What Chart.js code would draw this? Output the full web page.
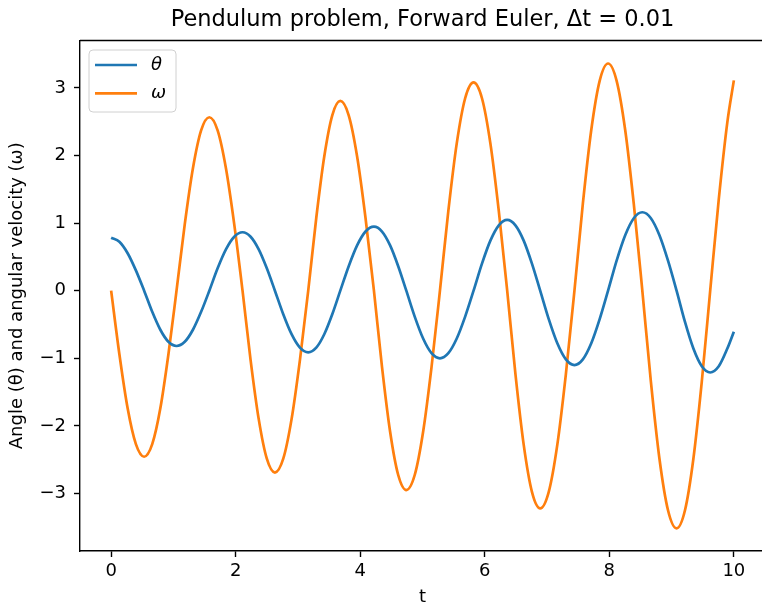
<!DOCTYPE html>
<html>
<head>
<meta charset="utf-8">
<script src="https://cdn.jsdelivr.net/npm/chart.js@4/dist/chart.umd.min.js"></script>
<style>
    html, body { margin: 0; padding: 0; background: #fff; overflow: hidden; }
    canvas { display: block; }
</style>
</head>
<body>
<canvas id="pendulumChart" width="766" height="604"></canvas>
<script>
// values: extrema, zero crossings and three points inside each quarter swing
const timeGrid = [
    0, 0.1325, 0.265, 0.3975, 0.53, 0.66, 0.79, 0.92, 1.05, 1.182, 1.3135, 1.445,
    1.577, 1.71, 1.8435, 1.977, 2.11, 2.24, 2.37, 2.5, 2.63, 2.764, 2.8975, 3.031,
    3.165, 3.294, 3.4225, 3.551, 3.68, 3.815, 3.95, 4.085, 4.22, 4.35, 4.48, 4.61,
    4.74, 4.875, 5.01, 5.145, 5.28, 5.415, 5.55, 5.685, 5.82, 5.955, 6.09, 6.225,
    6.36, 6.4925, 6.625, 6.7575, 6.89, 7.0275, 7.165, 7.3025, 7.44, 7.575, 7.71, 7.845,
    7.98, 8.1175, 8.255, 8.3925, 8.53, 8.6675, 8.805, 8.9425, 9.08, 9.215, 9.35, 9.485,
    9.62, 9.7575, 9.895, 10
];
const thetaValues = [
    0.784, 0.724, 0.554, 0.300, 0, -0.313, -0.578, -0.756, -0.818, -0.756, -0.578, -0.313,
    0, 0.331, 0.611, 0.798, 0.864, 0.798, 0.611, 0.331, 0, -0.349, -0.644, -0.842,
    -0.911, -0.842, -0.644, -0.349, 0, 0.362, 0.670, 0.875, 0.947, 0.875, 0.670, 0.362,
    0, -0.383, -0.707, -0.924, -1.0, -0.924, -0.707, -0.383, 0, 0.40, 0.74, 0.966,
    1.046, 0.966, 0.74, 0.40, 0, -0.421, -0.778, -1.016, -1.10, -1.016, -0.778, -0.421,
    0, 0.444, 0.82, 1.072, 1.16, 1.072, 0.82, 0.444, 0, -0.463, -0.856, -1.118,
    -1.21, -1.118, -0.856, -0.606
];
const omegaValues = [
    0, -0.94, -1.74, -2.27, -2.456, -2.27, -1.74, -0.94, 0, 0.98, 1.81, 2.37,
    2.565, 2.37, 1.81, 0.98, 0, -1.03, -1.90, -2.485, -2.69, -2.485, -1.90, -1.03,
    0, 1.075, 1.984, 2.593, 2.806, 2.593, 1.984, 1.075, 0, -1.13, -2.086, -2.726,
    -2.95, -2.726, -2.086, -1.13, 0, 1.18, 2.178, 2.846, 3.08, 2.846, 2.178, 1.18,
    0, -1.233, -2.277, -2.975, -3.22, -2.975, -2.277, -1.233, 0, 1.286, 2.376, 3.104,
    3.36, 3.104, 2.376, 1.286, 0, -1.345, -2.485, -3.247, -3.515, -3.247, -2.485, -1.345,
    0, 1.35, 2.49, 3.11
];
const xTickValues = [0, 2, 4, 6, 8, 10];
const yTickValues = [-3, -2, -1, 0, 1, 2, 3];

const FONT = 'DejaVu Sans';
const blue = '#1f77b4';
const orange = '#ff7f0e';

const toPoints = (ys) => timeGrid.map((t, i) => ({ x: t, y: ys[i] }));
const minusSign = (v) => (v < 0 ? '\u2212' + Math.abs(v) : String(v));

// matplotlib-like frame: title over the axes, top spine, legend box inside the axes
const framePlugin = {
    id: 'frame',
    afterDraw(chart) {
        const { ctx, chartArea } = chart;
        ctx.save();
        ctx.fillStyle = '#000';
        ctx.font = '22.5px ' + FONT;
        ctx.textAlign = 'center';
        ctx.textBaseline = 'alphabetic';
        ctx.fillText('Pendulum problem, Forward Euler, \u0394t = 0.01', (chartArea.left + chartArea.right) / 2, 26);

        ctx.strokeStyle = '#000';
        ctx.lineWidth = 1.4;
        ctx.beginPath();
        ctx.moveTo(chartArea.left, chartArea.top);
        ctx.lineTo(chartArea.right, chartArea.top);
        ctx.stroke();

        // legend
        const x = 89, y = 50, w = 87, h = 62, r = 4;
        ctx.fillStyle = 'rgba(255,255,255,0.8)';
        ctx.strokeStyle = '#d0d0d0';
        ctx.lineWidth = 1;
        ctx.beginPath();
        ctx.roundRect(x, y, w, h, r);
        ctx.fill();
        ctx.stroke();

        ctx.font = 'italic 18px ' + FONT;
        ctx.textBaseline = 'middle';
        ctx.textAlign = 'left';
        chart.data.datasets.forEach((ds, i) => {
            const ly = 65 + i * 28.3;
            ctx.strokeStyle = ds.borderColor;
            ctx.lineWidth = 2.7;
            ctx.beginPath();
            ctx.moveTo(95, ly);
            ctx.lineTo(137, ly);
            ctx.stroke();
            ctx.fillStyle = '#000';
            ctx.fillText(ds.label, 151, ly);
        });
        ctx.restore();
    }
};

new Chart(document.getElementById('pendulumChart'), {
    type: 'line',
    data: {
        datasets: [
            { label: '\u03b8', data: toPoints(thetaValues), borderColor: blue, backgroundColor: blue },
            { label: '\u03c9', data: toPoints(omegaValues), borderColor: orange, backgroundColor: orange }
        ]
    },
    options: {
        responsive: false,
        animation: false,
        devicePixelRatio: 1,
        layout: { padding: { left: 0, right: 1, top: 40.5, bottom: 0 } },
        elements: {
            point: { radius: 0, hoverRadius: 0 },
            line: { borderWidth: 2.7, cubicInterpolationMode: 'monotone', fill: false }
        },
        plugins: {
            legend: { display: false },
            tooltip: { enabled: false },
            title: { display: false }
        },
        scales: {
            x: {
                type: 'linear',
                min: -0.5,
                max: 10.5,
                afterFit: (scale) => { scale.height = 53; },
                afterBuildTicks: (scale) => { scale.ticks = xTickValues.map(v => ({ value: v })); },
                ticks: { color: '#000', font: { family: FONT, size: 18 }, padding: 4, maxRotation: 0, includeBounds: false,
                    callback: minusSign },
                grid: { drawOnChartArea: false, drawTicks: true, tickLength: 6, tickColor: '#000', tickWidth: 1.4 },
                border: { color: '#000', width: 1.4 },
                title: { display: true, text: 't', color: '#000', font: { family: FONT, size: 18, lineHeight: 0.75 },
                    padding: { top: 0, bottom: 0 } }
            },
            y: {
                min: -3.85,
                max: 3.70,
                afterFit: (scale) => { scale.width = 80; },
                afterBuildTicks: (scale) => { scale.ticks = yTickValues.map(v => ({ value: v })); },
                ticks: { color: '#000', font: { family: FONT, size: 18 }, padding: 8, includeBounds: false,
                    callback: minusSign },
                grid: { drawOnChartArea: false, drawTicks: true, tickLength: 6, tickColor: '#000', tickWidth: 1.4 },
                border: { color: '#000', width: 1.4 },
                title: { display: true, text: 'Angle (\u03b8) and angular velocity (\u03c9)', color: '#000',
                    font: { family: FONT, size: 18 }, padding: { top: 7, bottom: 0 } }
            }
        }
    },
    plugins: [framePlugin]
});
</script>
</body>
</html>
